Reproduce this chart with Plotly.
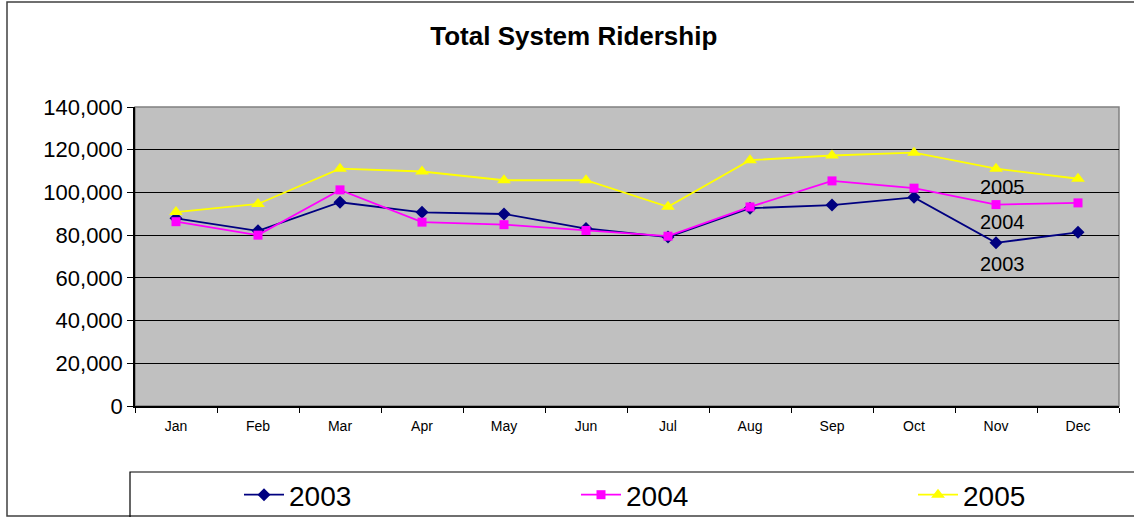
import plotly.graph_objects as go

months = ["Jan", "Feb", "Mar", "Apr", "May", "Jun", "Jul", "Aug", "Sep", "Oct", "Nov", "Dec"]
riders_2003 = [87900, 82000, 95400, 90700, 89900, 83100, 79100, 92600, 94100, 97700, 76400, 81300]
riders_2004 = [86300, 80000, 101200, 86100, 84900, 82200, 79500, 93200, 105400, 102000, 94300, 95100]
riders_2005 = [90800, 94600, 111100, 109800, 105700, 105700, 93300, 115100, 117300, 118600, 111100, 106400]

# labels written next to Nov (y in data units)
end_labels = ["2005", "2004", "2003"]
end_label_y = [102500, 86100, 66400]

FONT = "Liberation Sans, Arial, sans-serif"
W, H = 1134, 517


# px -> paper helpers (plot area 135..1119 x, 107..406 y)
def px_x(p):
    return (p - 135) / 984


def px_y(p):
    return (406 - p) / 299


fig = go.Figure()

series = [
    ("2003", riders_2003, "#000080", "diamond", 10, "legend", 245),
    ("2004", riders_2004, "#FF00FF", "square", 9, "legend2", 582),
    ("2005", riders_2005, "#FFFF00", "triangle-up", 12, "legend3", 919),
]
legends = {}
for name, vals, color, symbol, size, leg, lx in series:
    fig.add_trace(go.Scatter(
        x=months, y=vals, name=name, mode="lines+markers",
        line=dict(color=color, width=1.8),
        marker=dict(symbol=symbol, size=size, color=color),
        cliponaxis=False, legend=leg,
    ))
    # legends placed in container coords so they don't push the margins
    legends[leg] = dict(
        orientation="h", xref="container", yref="container",
        x=(lx - 6) / W, xanchor="left",
        y=1 - 495 / H, yanchor="middle", itemwidth=40,
        font=dict(size=28, family=FONT, color="black"),
        bgcolor="rgba(0,0,0,0)", borderwidth=0,
    )

for txt, yv in zip(end_labels, end_label_y):
    fig.add_annotation(x="Nov", y=yv, text=txt, showarrow=False, xshift=6,
                       font=dict(size=20, color="black", family=FONT))

# outer chart border
fig.add_shape(type="rect", xref="paper", yref="paper",
              x0=px_x(7), x1=px_x(1145), y0=px_y(516), y1=px_y(2),
              line=dict(color="#404040", width=1.5), layer="below")
# legend box
fig.add_shape(type="rect", xref="paper", yref="paper",
              x0=px_x(130), x1=px_x(1145), y0=px_y(530), y1=px_y(472),
              line=dict(color="black", width=1.2), layer="below")
# plot area frame (grey top/right)
fig.add_shape(type="rect", xref="paper", yref="paper",
              x0=0, x1=1, y0=0, y1=1,
              line=dict(color="#808080", width=1.5), layer="below")

fig.update_layout(
    width=W, height=H,
    margin=dict(l=135, r=15, t=107, b=111, autoexpand=False),
    paper_bgcolor="white",
    plot_bgcolor="#C0C0C0",
    font=dict(family=FONT, color="black"),
    title=dict(text="<b>Total System Ridership</b>", x=0.506, xref="container",
               y=1 - 36 / H, yref="container", yanchor="middle", xanchor="center",
               font=dict(size=26, family=FONT, color="black")),
    showlegend=True,
    **legends,
)

fig.update_xaxes(
    type="category", range=[-0.5, len(months) - 0.5],
    tickson="boundaries", ticks="outside", ticklen=5,
    tickcolor="black", showline=True, linecolor="black", linewidth=1.5,
    showgrid=False, tickfont=dict(size=14, family=FONT, color="black"),
    ticklabelstandoff=6,
)
fig.update_yaxes(
    range=[0, 140000], dtick=20000, tickformat=",", ticks="outside", ticklen=6,
    tickcolor="black", showline=True, linecolor="black", linewidth=1.5,
    showgrid=True, gridcolor="black", gridwidth=1, zeroline=False,
    tickfont=dict(size=22, family=FONT, color="black"),
)

fig.write_html("out.html", config={"displayModeBar": False},
               post_script="document.body.style.margin='0';")
